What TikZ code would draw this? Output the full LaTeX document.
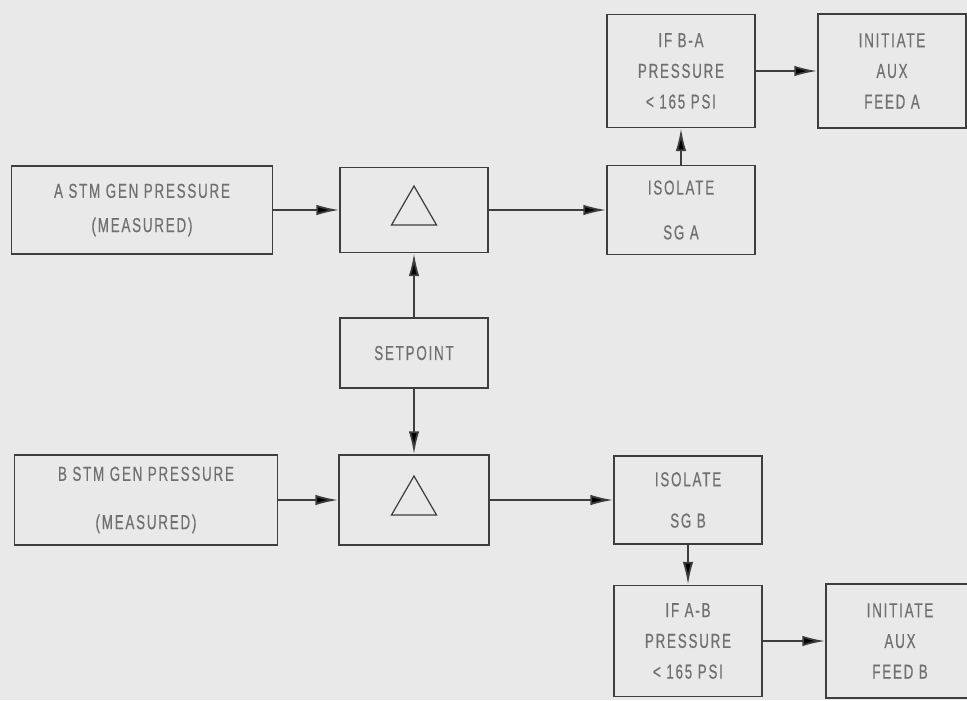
\documentclass[tikz,border=0pt]{standalone}
\usepackage{fontspec}
\newfontfamily\boxfont[FakeStretch=0.66,LetterSpace=9,FakeBold=0.5]{Liberation Sans}
\usetikzlibrary{arrows.meta,shapes.geometric}
\definecolor{paper}{RGB}{233,233,233}
\definecolor{ink}{RGB}{62,62,62}
\definecolor{lettering}{RGB}{112,112,112}

\tikzset{
  block/.style={draw=ink, line width=1pt, text=lettering, align=center, inner sep=0pt,
    minimum width=2.96cm, minimum height=1.76cm,
    font=\boxfont\fontsize{11.5}{17.5}\selectfont},
  delta/.style={draw=ink, line width=0.7pt, regular polygon, regular polygon sides=3,
    minimum size=1.04cm, inner sep=0pt},
  flow/.style={draw=ink, line width=1pt, -{Latex[length=13pt,width=6pt]}}
}

\begin{document}
\begin{tikzpicture}[x=0.02cm,y=-0.02cm]
  \fill[paper] (0,0) rectangle (967,700);
  \clip (0,0) rectangle (967,700);

  % A steam generator
  \node[block, minimum width=5.22cm] (AGen) at (142,210) {A STM GEN PRESSURE\\[2pt](MEASURED)};
  \node[block, minimum height=1.7cm] (ADelta) at (414,210) {};
  \node[delta] (ATri) at (414,212) {};
  \node[block, minimum height=1.78cm] (AIso) at (681,210) {ISOLATE\\[8pt]SG A};
  \node[block, minimum height=2.26cm] (ACheck) at (681,71) {IF B-A\\PRESSURE\\< 165 PSI};
  \node[block, minimum height=2.28cm] (AFeed) at (892,71) {INITIATE\\AUX\\FEED A};

  % setpoint
  \node[block, minimum height=1.4cm] (SetPt) at (414,353) {SETPOINT};

  % B steam generator
  \node[block, minimum width=5.26cm, minimum height=1.8cm] (BGen) at (146,500) {B STM GEN PRESSURE\\[10pt](MEASURED)};
  \node[block, minimum width=3cm, minimum height=1.8cm] (BDelta) at (414,500) {};
  \node[delta] (BTri) at (414,502) {};
  \node[block] (BIso) at (688,500) {ISOLATE\\[6pt]SG B};
  \node[block, minimum height=2.22cm] (BCheck) at (688,641) {IF A-B\\PRESSURE\\< 165 PSI};
  \node[block, minimum height=2.28cm] (BFeed) at (900,641) {INITIATE\\AUX\\FEED B};

  \draw[flow]
    (AGen) edge (ADelta)
    (ADelta) edge (AIso)
    (AIso) edge (ACheck)
    (ACheck) edge (AFeed)
    (SetPt) edge (ADelta)
    (SetPt) edge (BDelta)
    (BGen) edge (BDelta)
    (BDelta) edge (BIso)
    (BIso) edge (BCheck)
    (BCheck) edge (BFeed)
    ;
\end{tikzpicture}
\end{document}
